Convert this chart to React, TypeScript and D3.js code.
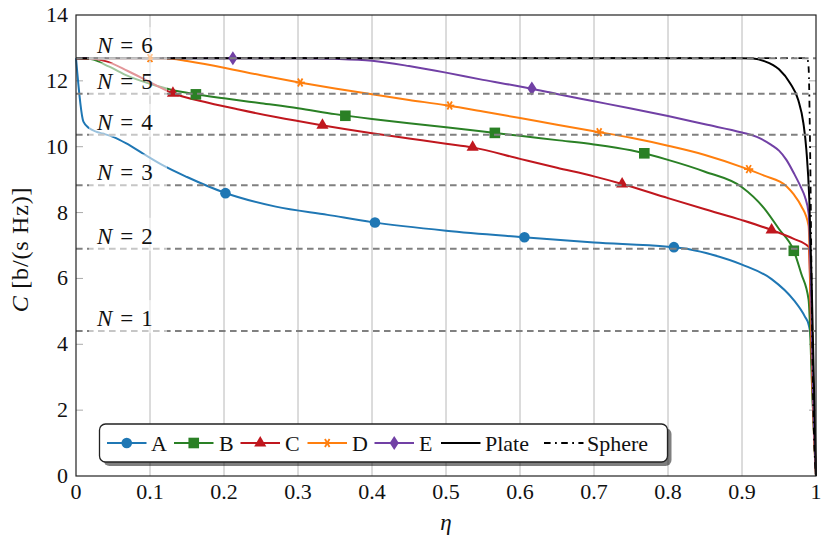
import React, { useEffect } from 'react';
import * as d3 from 'd3';

type Pt = [number, number];

// axis ticks
const etaTicks = [0, 0.1, 0.2, 0.3, 0.4, 0.5, 0.6, 0.7, 0.8, 0.9, 1];
const capTicks = [0, 2, 4, 6, 8, 10, 12, 14];

// horizontal reference levels (N = 1..6)
const levelNames = ['1', '2', '3', '4', '5', '6'];
const levelValues = [4.4, 6.9, 8.83, 10.36, 11.61, 12.69];

// capacity curves C(eta)
const seriesA: Pt[] = [
  [0, 12.69], [0.01, 10.76], [0.018, 10.56], [0.027, 10.46], [0.036, 10.4], [0.05, 10.3],
  [0.068, 10.1], [0.09, 9.8], [0.117, 9.44], [0.15, 9.08], [0.2, 8.61], [0.27, 8.18],
  [0.34, 7.93], [0.4, 7.71], [0.5, 7.45], [0.6, 7.26], [0.7, 7.09], [0.8, 6.96],
  [0.83, 6.88], [0.86, 6.72], [0.9, 6.42], [0.94, 5.98], [0.97, 5.34], [0.985, 4.84],
  [0.99, 4.6], [0.993, 4.2], [0.996, 2], [1, 0],
];
const seriesB: Pt[] = [
  [0, 12.69], [0.02, 12.66], [0.045, 12.43], [0.07, 12.15], [0.1, 11.91], [0.13, 11.72],
  [0.16, 11.6], [0.2, 11.47], [0.25, 11.32], [0.3, 11.17], [0.35, 10.99], [0.4, 10.84],
  [0.45, 10.71], [0.5, 10.59], [0.55, 10.46], [0.6, 10.33], [0.65, 10.2], [0.7, 10.07],
  [0.75, 9.89], [0.8, 9.6], [0.85, 9.24], [0.9, 8.77], [0.93, 8.13], [0.95, 7.5],
  [0.97, 6.84], [0.98, 6.15], [0.99, 5.35], [0.995, 2.5], [1, 0],
];
const seriesC: Pt[] = [
  [0, 12.69], [0.02, 12.68], [0.04, 12.6], [0.07, 12.3], [0.1, 11.96], [0.13, 11.63],
  [0.18, 11.33], [0.22, 11.13], [0.27, 10.9], [0.33, 10.66], [0.4, 10.41], [0.45, 10.25],
  [0.5, 10.09], [0.536, 9.98], [0.6, 9.63], [0.65, 9.36], [0.7, 9.1], [0.738, 8.87],
  [0.8, 8.44], [0.85, 8.1], [0.9, 7.77], [0.94, 7.47], [0.97, 7.2], [0.99, 6.96],
  [0.995, 3], [1, 0],
];
const seriesD: Pt[] = [
  [0, 12.69], [0.1, 12.69], [0.13, 12.67], [0.15, 12.6], [0.2, 12.4], [0.25, 12.17],
  [0.3, 11.96], [0.35, 11.77], [0.4, 11.59], [0.45, 11.42], [0.5, 11.26], [0.55, 11.07],
  [0.6, 10.87], [0.65, 10.67], [0.7, 10.47], [0.75, 10.27], [0.8, 10.03], [0.85, 9.75],
  [0.9, 9.38], [0.93, 9.12], [0.96, 8.8], [0.97, 8.55], [0.98, 8.2], [0.99, 7.6],
  [0.993, 5], [0.996, 2], [1, 0],
];
const seriesE: Pt[] = [
  [0, 12.69], [0.3, 12.69], [0.35, 12.67], [0.4, 12.61], [0.45, 12.45], [0.5, 12.25],
  [0.55, 12.03], [0.6, 11.83], [0.65, 11.6], [0.7, 11.38], [0.75, 11.16], [0.8, 10.93],
  [0.85, 10.68], [0.9, 10.43], [0.92, 10.3], [0.94, 10.05], [0.95, 9.88], [0.96, 9.6],
  [0.97, 9.2], [0.98, 8.75], [0.985, 8.48], [0.99, 7.98], [0.993, 6], [0.996, 2.5], [1, 0],
];
const seriesPlate: Pt[] = [
  [0, 12.69], [0.9, 12.69], [0.915, 12.68], [0.93, 12.6], [0.95, 12.35], [0.965, 11.93],
  [0.976, 11.42], [0.983, 10.71], [0.987, 9.9], [0.991, 8.38], [0.994, 6], [0.997, 3], [1, 0],
];
const seriesSphere: Pt[] = [
  [0, 12.69], [0.988, 12.69], [0.99, 12.4], [0.992, 10], [0.994, 6], [0.996, 2.5],
  [0.998, 0.8], [1, 0],
];

// marker positions on each curve
const marksA: Pt[] = [[0.202, 8.59], [0.404, 7.7], [0.606, 7.25], [0.808, 6.95]];
const marksB: Pt[] = [[0.162, 11.59], [0.364, 10.94], [0.566, 10.42], [0.768, 9.8], [0.97, 6.84]];
const marksC: Pt[] = [[0.131, 11.62], [0.333, 10.65], [0.536, 9.98], [0.738, 8.87], [0.94, 7.47]];
const marksD: Pt[] = [[0.1, 12.69], [0.303, 11.95], [0.505, 11.25], [0.707, 10.44], [0.909, 9.32]];
const marksE: Pt[] = [[0.212, 12.69], [0.616, 11.77]];

type Mark = 'circle' | 'square' | 'triangle' | 'asterisk' | 'diamond' | 'none';

interface Series {
  name: string;
  data: Pt[];
  marks: Pt[];
  color: string;
  mark: Mark;
  dash?: string;
}

const series: Series[] = [
  { name: 'A', data: seriesA, marks: marksA, color: '#1f77b4', mark: 'circle' },
  { name: 'B', data: seriesB, marks: marksB, color: '#2a8025', mark: 'square' },
  { name: 'C', data: seriesC, marks: marksC, color: '#c0171e', mark: 'triangle' },
  { name: 'D', data: seriesD, marks: marksD, color: '#ff7f0e', mark: 'asterisk' },
  { name: 'E', data: seriesE, marks: marksE, color: '#7140a5', mark: 'diamond' },
  { name: 'Plate', data: seriesPlate, marks: [], color: '#000000', mark: 'none' },
  { name: 'Sphere', data: seriesSphere, marks: [], color: '#000000', mark: 'none', dash: '6.6,4.4,1.8,4.4' },
];

const W = 830;
const H = 536;
const M = { left: 76, right: 816, top: 15, bottom: 476 };
const FONT = '"Liberation Serif", "Times New Roman", serif';

const x = d3.scaleLinear().domain([0, 1]).range([M.left, M.right]);
const y = d3.scaleLinear().domain([0, 14]).range([M.bottom, M.top]);

const line = d3
  .line<Pt>()
  .x(d => x(d[0]))
  .y(d => y(d[1]))
  .curve(d3.curveMonotoneX);

function MarkShape({ kind, cx, cy, color }: { kind: Mark; cx: number; cy: number; color: string }) {
  if (kind === 'circle') return <circle cx={cx} cy={cy} r={5.3} fill={color} />;
  if (kind === 'square') return <rect x={cx - 5.3} y={cy - 5.3} width={10.6} height={10.6} fill={color} />;
  if (kind === 'triangle') {
    const r = 7;
    const pts = [0, 1, 2].map(i => {
      const a = -Math.PI / 2 + (i * 2 * Math.PI) / 3;
      return `${cx + r * Math.cos(a)},${cy + r * Math.sin(a)}`;
    });
    return <polygon points={pts.join(' ')} fill={color} />;
  }
  if (kind === 'diamond') {
    return (
      <polygon
        points={`${cx},${cy - 7} ${cx + 4.6},${cy} ${cx},${cy + 7} ${cx - 4.6},${cy}`}
        fill={color}
      />
    );
  }
  if (kind === 'asterisk') {
    const r = 4.6;
    return (
      <g stroke={color} strokeWidth={1.8}>
        {[0, 60, 120].map(deg => {
          const a = (deg * Math.PI) / 180;
          return (
            <line
              key={deg}
              x1={cx - r * Math.cos(a)}
              y1={cy - r * Math.sin(a)}
              x2={cx + r * Math.cos(a)}
              y2={cy + r * Math.sin(a)}
            />
          );
        })}
      </g>
    );
  }
  return null;
}

// legend layout (line start, text start) in px
const legendLineX = [107, 174, 240.5, 307.5, 374.5, 441, 544];
const legendTextX = [151, 219, 285, 352, 419, 485, 587];

export default function App() {
  useEffect(() => {
    document.body.style.margin = '0';
  }, []);

  const legendY = 443;

  return (
    <svg width={W} height={H} style={{ display: 'block', background: '#fff' }} fontFamily={FONT}>
      {/* vertical grid */}
      {etaTicks.slice(1, -1).map(t => (
        <line key={t} x1={x(t)} x2={x(t)} y1={M.top} y2={M.bottom} stroke="#b8b8b8" strokeWidth={1} />
      ))}
      {/* y ticks, inward on both sides */}
      {capTicks.slice(1, -1).map(t => (
        <g key={t} stroke="#aaa" strokeWidth={1}>
          <line x1={M.left} x2={M.left + 7} y1={y(t)} y2={y(t)} />
          <line x1={M.right - 7} x2={M.right} y1={y(t)} y2={y(t)} />
        </g>
      ))}

      {/* curves */}
      {series.map(s => (
        <path
          key={s.name}
          d={line(s.data) ?? ''}
          fill="none"
          stroke={s.color}
          strokeWidth={s.dash ? 1.8 : 2}
          strokeDasharray={s.dash}
        />
      ))}
      {series.map(s =>
        s.marks.map((p, i) => (
          <MarkShape key={s.name + i} kind={s.mark} cx={x(p[0])} cy={y(p[1])} color={s.color} />
        ))
      )}

      {/* N levels */}
      {levelValues.map(v => (
        <line
          key={v}
          x1={M.left}
          x2={M.right}
          y1={y(v)}
          y2={y(v)}
          stroke="#808080"
          strokeWidth={2}
          strokeDasharray="6.6,4.4"
        />
      ))}
      {levelValues.map((v, i) => (
        <g key={'lbl' + v}>
          <rect x={89} y={y(v) - 31} width={78} height={33} fill="#fff" fillOpacity={0.55} />
          <text x={97} y={y(v) - 5} fontSize={23} fill="#111">
            <tspan fontStyle="italic">N</tspan>
            <tspan dx={8}>=</tspan>
            <tspan dx={8}>{levelNames[i]}</tspan>
          </text>
        </g>
      ))}

      {/* frame */}
      <rect
        x={M.left}
        y={M.top}
        width={M.right - M.left}
        height={M.bottom - M.top}
        fill="none"
        stroke="#222"
        strokeWidth={1.2}
      />

      {/* tick labels */}
      {etaTicks.map(t => (
        <text key={t} x={x(t)} y={499} textAnchor="middle" fontSize={22} fill="#111">
          {String(t)}
        </text>
      ))}
      {capTicks.map(t => (
        <text key={t} x={68} y={y(t) + 7} textAnchor="end" fontSize={22} fill="#111">
          {t}
        </text>
      ))}

      {/* axis labels */}
      <text x={x(0.5)} y={530} textAnchor="middle" fontSize={23} fontStyle="italic" fill="#111">
        η
      </text>
      <text
        transform={`translate(28, ${(M.top + M.bottom) / 2 + 4}) rotate(-90)`}
        textAnchor="middle"
        fontSize={24}
        letterSpacing={0.8}
        fill="#111"
        style={{ whiteSpace: 'pre' }}
      >
        <tspan fontStyle="italic">C</tspan>
        <tspan>{' [b/(s Hz)]'}</tspan>
      </text>

      {/* legend */}
      <rect x={103.5} y={428} width={568} height={38} rx={6} fill="#000" fillOpacity={0.5} />
      <rect x={99.5} y={424} width={568} height={38} rx={6} fill="#fff" stroke="#222" strokeWidth={1.3} />
      {series.map((s, i) => (
        <g key={'leg' + s.name}>
          <line
            x1={legendLineX[i]}
            x2={legendLineX[i] + 39.5}
            y1={legendY}
            y2={legendY}
            stroke={s.color}
            strokeWidth={s.dash ? 1.8 : 2}
            strokeDasharray={s.dash}
          />
          <MarkShape kind={s.mark} cx={legendLineX[i] + 19.75} cy={legendY} color={s.color} />
          <text x={legendTextX[i]} y={legendY + 7.5} fontSize={22} fill="#111">
            {s.name}
          </text>
        </g>
      ))}
    </svg>
  );
}
